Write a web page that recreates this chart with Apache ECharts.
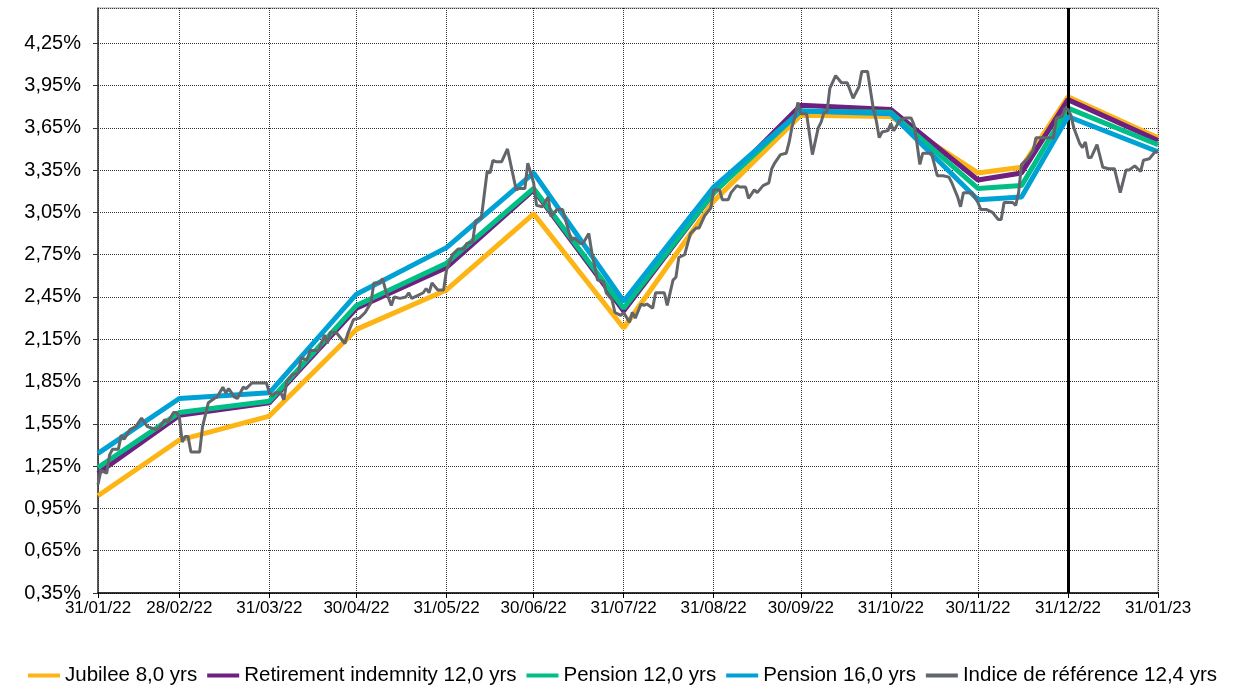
<!DOCTYPE html>
<html>
<head>
<meta charset="utf-8">
<script src="https://cdn.jsdelivr.net/npm/echarts@6/dist/echarts.min.js"></script>
<style>
html,body{margin:0;padding:0;background:#fff;}
#chart{width:1245px;height:685px;}
</style>
</head>
<body>
<div id="chart"></div>
<script>
// ---- DATA ----
var startDate = '2022-01-31';
var endDate = '2023-01-31';
var seriesNames = ['Jubilee 8,0 yrs', 'Retirement indemnity 12,0 yrs', 'Pension 12,0 yrs', 'Pension 16,0 yrs', 'Indice de référence 12,4 yrs'];
var monthDates = ['2022-01-31','2022-02-28','2022-03-31','2022-04-30','2022-05-31','2022-06-30','2022-07-31','2022-08-31','2022-09-30','2022-10-31','2022-11-30','2022-12-15','2022-12-31','2023-01-31'];
var jubilee    = [1.04, 1.435, 1.605, 2.22, 2.50, 3.04, 2.23, 3.13, 3.74, 3.73, 3.33, 3.37, 3.87, 3.58];
var retirement = [1.20, 1.61, 1.70, 2.37, 2.66, 3.21, 2.35, 3.19, 3.81, 3.78, 3.28, 3.33, 3.85, 3.56];
var pension12  = [1.24, 1.63, 1.71, 2.39, 2.69, 3.22, 2.37, 3.19, 3.77, 3.76, 3.22, 3.24, 3.79, 3.53];
var pension16  = [1.34, 1.73, 1.77, 2.47, 2.80, 3.33, 2.42, 3.23, 3.77, 3.75, 3.14, 3.16, 3.73, 3.48];
var indexDates = ['2022-01-31','2022-02-01','2022-02-03','2022-02-04','2022-02-05','2022-02-07','2022-02-08','2022-02-09','2022-02-11','2022-02-13','2022-02-15','2022-02-17','2022-02-20','2022-02-21','2022-02-23','2022-02-24','2022-02-26','2022-02-27','2022-02-28',
'2022-03-01','2022-03-02','2022-03-03','2022-03-04','2022-03-07','2022-03-08','2022-03-10','2022-03-12','2022-03-13','2022-03-15','2022-03-16','2022-03-17','2022-03-19','2022-03-20','2022-03-22','2022-03-23','2022-03-25','2022-03-28','2022-03-30','2022-03-31',
'2022-04-01','2022-04-02','2022-04-04','2022-04-05','2022-04-06','2022-04-08','2022-04-10','2022-04-11','2022-04-13','2022-04-14','2022-04-17','2022-04-19','2022-04-20','2022-04-21','2022-04-23','2022-04-26','2022-04-27','2022-04-29',
'2022-05-01','2022-05-03','2022-05-05','2022-05-06','2022-05-08','2022-05-09','2022-05-10','2022-05-12','2022-05-13','2022-05-15','2022-05-17','2022-05-18','2022-05-19','2022-05-21','2022-05-23','2022-05-24','2022-05-25','2022-05-26','2022-05-28','2022-05-30','2022-05-31',
'2022-06-02','2022-06-04','2022-06-06','2022-06-07','2022-06-09','2022-06-10','2022-06-12','2022-06-14','2022-06-15','2022-06-16','2022-06-17','2022-06-19','2022-06-21','2022-06-24','2022-06-25','2022-06-27','2022-06-28','2022-06-30',
'2022-07-01','2022-07-03','2022-07-05','2022-07-06','2022-07-08','2022-07-10','2022-07-13','2022-07-14','2022-07-16','2022-07-17','2022-07-19','2022-07-20','2022-07-22','2022-07-24','2022-07-25','2022-07-27','2022-07-28','2022-07-30','2022-07-31',
'2022-08-02','2022-08-03','2022-08-04','2022-08-06','2022-08-07','2022-08-08','2022-08-10','2022-08-11','2022-08-13','2022-08-14','2022-08-15','2022-08-17','2022-08-18','2022-08-19','2022-08-21','2022-08-23','2022-08-25','2022-08-26','2022-08-28','2022-08-30','2022-08-31',
'2022-09-02','2022-09-03','2022-09-05','2022-09-06','2022-09-08','2022-09-09','2022-09-11','2022-09-12','2022-09-14','2022-09-15','2022-09-17','2022-09-19','2022-09-20','2022-09-21','2022-09-23','2022-09-25','2022-09-26','2022-09-27','2022-09-28','2022-09-29','2022-09-30',
'2022-10-02','2022-10-04','2022-10-06','2022-10-07','2022-10-08','2022-10-09','2022-10-10','2022-10-12','2022-10-14','2022-10-16','2022-10-18','2022-10-20','2022-10-21','2022-10-23','2022-10-25','2022-10-26','2022-10-27','2022-10-28','2022-10-30','2022-10-31',
'2022-11-01','2022-11-03','2022-11-05','2022-11-07','2022-11-08','2022-11-09','2022-11-10','2022-11-11','2022-11-13','2022-11-14','2022-11-16','2022-11-18','2022-11-20','2022-11-21','2022-11-23','2022-11-24','2022-11-25','2022-11-27','2022-11-28','2022-11-30',
'2022-12-01','2022-12-03','2022-12-05','2022-12-07','2022-12-08','2022-12-09','2022-12-10','2022-12-12','2022-12-13','2022-12-14','2022-12-15','2022-12-17','2022-12-19','2022-12-20','2022-12-22','2022-12-24','2022-12-26','2022-12-27','2022-12-29','2022-12-30','2022-12-31',
'2023-01-01','2023-01-02','2023-01-04','2023-01-05','2023-01-06','2023-01-07','2023-01-08','2023-01-10','2023-01-12','2023-01-14','2023-01-16','2023-01-18','2023-01-20','2023-01-21','2023-01-23','2023-01-25','2023-01-26','2023-01-28','2023-01-30','2023-01-31'];
var indexValues = [1.12,1.22,1.20,1.33,1.37,1.37,1.47,1.44,1.51,1.53,1.59,1.53,1.51,1.52,1.58,1.56,1.63,1.63,1.60,
1.42,1.46,1.46,1.35,1.35,1.53,1.70,1.73,1.74,1.81,1.77,1.80,1.74,1.73,1.81,1.80,1.84,1.84,1.84,1.77,
1.75,1.77,1.77,1.72,1.85,1.90,1.91,2.02,2.00,2.07,2.07,2.18,2.12,2.20,2.20,2.12,2.19,2.29,
2.30,2.34,2.41,2.55,2.55,2.58,2.50,2.39,2.45,2.44,2.45,2.48,2.44,2.46,2.48,2.51,2.48,2.55,2.50,2.50,2.64,
2.75,2.79,2.79,2.83,2.84,2.99,3.01,3.34,3.33,3.42,3.41,3.41,3.50,3.21,3.22,3.22,3.40,3.26,
3.10,3.09,3.16,3.02,3.07,3.07,2.85,2.87,2.83,2.83,2.90,2.77,2.57,2.56,2.48,2.43,2.34,2.32,2.34,
2.27,2.34,2.30,2.40,2.39,2.40,2.37,2.48,2.48,2.48,2.39,2.57,2.59,2.73,2.75,2.90,2.94,2.94,3.03,3.08,3.21,
3.21,3.14,3.14,3.19,3.24,3.23,3.23,3.15,3.21,3.19,3.24,3.26,3.36,3.40,3.46,3.47,3.55,3.66,3.73,3.83,3.75,
3.75,3.46,3.65,3.69,3.76,3.76,3.93,4.02,3.97,3.97,3.86,3.94,4.05,4.05,3.78,3.70,3.58,3.62,3.63,3.68,
3.63,3.70,3.72,3.72,3.67,3.54,3.39,3.47,3.47,3.47,3.31,3.31,3.30,3.26,3.16,3.09,3.19,3.19,3.19,3.12,
3.07,3.07,3.05,3.00,3.00,3.12,3.12,3.12,3.10,3.19,3.39,3.43,3.49,3.58,3.58,3.58,3.58,3.72,3.73,3.79,3.78,
3.74,3.65,3.54,3.51,3.55,3.44,3.44,3.53,3.37,3.36,3.36,3.19,3.35,3.35,3.38,3.34,3.42,3.43,3.48,3.48];
var markerDate = '2022-12-31';
var yMin = 0.35, yMax = 4.50, yStep = 0.30;

// ---- BUILD ----
function pad(n){return (n<10?'0':'')+n;}
function fmtISO(d){return d.getUTCFullYear()+'-'+pad(d.getUTCMonth()+1)+'-'+pad(d.getUTCDate());}
var days = [];
(function(){
  var d = new Date(startDate+'T00:00:00Z'), e = new Date(endDate+'T00:00:00Z');
  while (d <= e) { days.push(fmtISO(d)); d = new Date(d.getTime()+86400000); }
})();
function isMonthEnd(v){
  var d = new Date(v+'T00:00:00Z');
  var n = new Date(d.getTime()+86400000);
  return n.getUTCMonth() !== d.getUTCMonth();
}
function labelFmt(v){var p=v.split('-');return p[2]+'/'+p[1]+'/'+p[0].slice(2);}
function pairs(dates, vals){return dates.map(function(d,i){return [d, vals[i]];});}

var FONT = 'Liberation Sans, Arial, sans-serif';
var colors = ['#FDB515','#6E1F80','#00BF86','#00A2D6','#626569'];
var monthly = [jubilee, retirement, pension12, pension16];
var series = monthly.map(function(arr, i){
  return {
    name: seriesNames[i], type: 'line', yAxisIndex: 0, showSymbol: false, symbol: 'none',
    data: pairs(monthDates, arr), color: colors[i],
    lineStyle: {width: 5, color: colors[i]}, z: 2 + i
  };
});
series.push({
  name: seriesNames[4], type: 'line', yAxisIndex: 0, showSymbol: false, symbol: 'none',
  data: pairs(indexDates, indexValues), color: colors[4],
  lineStyle: {width: 3, color: colors[4]}, z: 7,
  markLine: {
    silent: true, symbol: ['none','none'], label: {show: false},
    lineStyle: {color: '#000', width: 3, type: 'solid'},
    data: [{xAxis: markerDate}]
  }
});

var chart = echarts.init(document.getElementById('chart'));
chart.setOption({
  animation: false,
  backgroundColor: '#fff',
  grid: {left: 98, right: 87, top: 8, bottom: 92, show: true, borderColor: '#a6a6a6', borderWidth: 1},
  legend: {
    data: seriesNames, top: 660, left: 'center', icon: 'rect', itemWidth: 32, itemHeight: 4, itemGap: 10,
    textStyle: {fontFamily: FONT, fontSize: 20.5, color: '#000'}
  },
  xAxis: {
    type: 'category', data: days, boundaryGap: false,
    axisLine: {lineStyle: {color: '#000', width: 1.5}},
    axisTick: {show: true, length: 5, interval: function(i, v){return isMonthEnd(v);}, lineStyle: {color: '#000'}},
    axisLabel: {interval: function(i, v){return isMonthEnd(v);}, formatter: labelFmt, fontFamily: FONT, fontSize: 17, color: '#000', margin: 7},
    splitLine: {show: true, interval: function(i, v){return isMonthEnd(v);}, lineStyle: {color: '#333', width: 1, type: [1, 1]}}
  },
  yAxis: [
    {type: 'value', min: yMin, max: yMax, show: false, splitLine: {show: false}},
    {type: 'value', min: 0, max: +(yMax - yMin).toFixed(2), interval: yStep, position: 'left',
     axisLine: {show: true, lineStyle: {color: '#333', width: 1.5}},
     axisTick: {show: true, length: 5, lineStyle: {color: '#333'}},
     axisLabel: {showMaxLabel: false, fontFamily: FONT, fontSize: 20, color: '#000', margin: 17,
       formatter: function(v){return (v + yMin).toFixed(2).replace('.', ',') + '%';}},
     splitLine: {show: true, lineStyle: {color: '#333', width: 1, type: [1, 1]}}
    }
  ],
  series: series
});
</script>
</body>
</html>
